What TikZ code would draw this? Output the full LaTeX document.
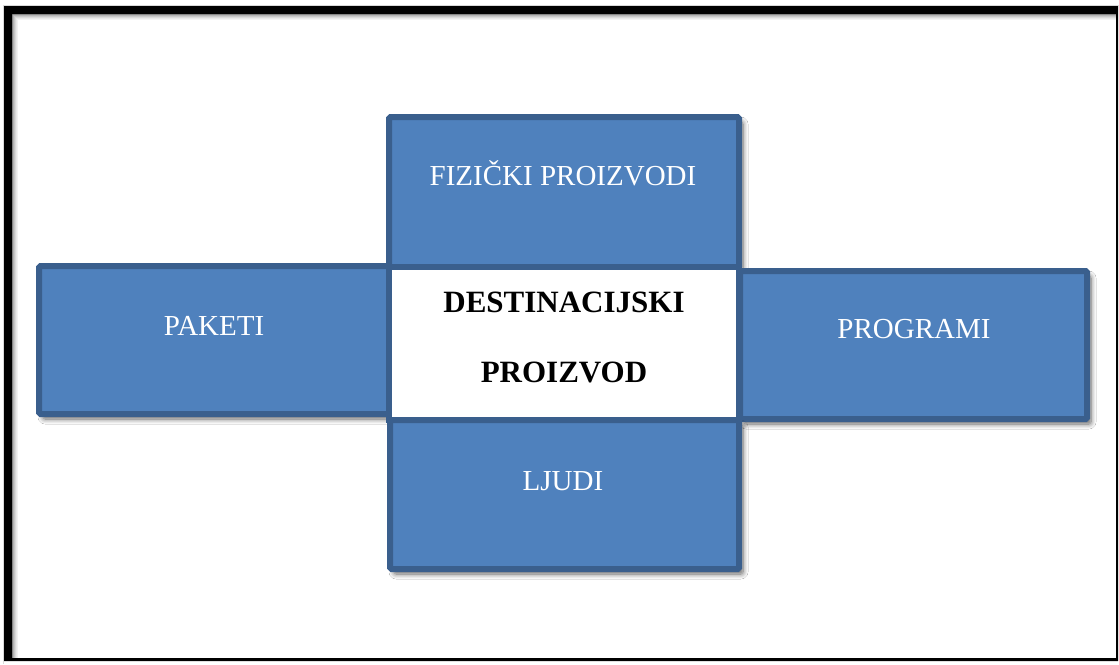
\documentclass[tikz,border=0pt]{standalone}
\usepackage{fontspec}
\setmainfont{Liberation Serif}
\usetikzlibrary{shadows.blur}
\definecolor{boxblue}{HTML}{4F81BD}
\definecolor{boxedge}{HTML}{3A5F8D}
\tikzset{
  panel/.style={fill=boxblue, draw=boxedge, line width=6pt, rounded corners=1.5pt,
    blur shadow={shadow xshift=4pt, shadow yshift=-5pt, shadow blur steps=8, shadow blur radius=5pt, shadow blur extra rounding=2pt, shadow opacity=60}},
  core/.style={fill=white, draw=boxedge, line width=6pt},
  plabel/.style={anchor=base, text=white, font=\fontsize{29}{33}\selectfont, inner sep=0pt},
  clabel/.style={anchor=base, text=black, font=\fontsize{31}{35}\selectfont\bfseries, inner sep=0pt}
}
\begin{document}
\begin{tikzpicture}[x=1pt,y=-1pt]
\useasboundingbox (0,0) rectangle (1119,664);
\fill[white] (0,0) rectangle (1119,664);
% outer frame
\fill[black, even odd rule] (4,6) rectangle (1118,661) (12,14) rectangle (1116,658);
\draw[gray!30, line width=0.8pt] (3.5,664) -- (3.5,5.5) -- (1119,5.5);
% inner shading of frame
\foreach \i/\o in {1/40,2/30,3/22,4/15,5/9,6/5} {
  \draw[black, opacity=\o/100, line width=1pt] (12+\i-0.5,658) -- (12+\i-0.5,14+\i-0.5) -- (1116,14+\i-0.5);
}
% panels
\draw[panel] (389,117) rectangle (739,267);
\draw[panel] (39,266) rectangle (389,414);
\draw[panel] (740,271) rectangle (1087,419);
\draw[panel] (390,420) rectangle (739,569);
\draw[core] (389,267) rectangle (739,420);
% labels
\node[plabel] (fiz) at (563,185) {FIZIČKI PROIZVODI};
\node[plabel] (pak) at (214,335) {PAKETI};
\node[plabel] (pro) at (914,338) {PROGRAMI};
\node[plabel] (lju) at (563,490) {LJUDI};
\node[clabel] (dest) at (564,312) {DESTINACIJSKI};
\node[clabel] (proi) at (564,382) {PROIZVOD};
\end{tikzpicture}
\end{document}
